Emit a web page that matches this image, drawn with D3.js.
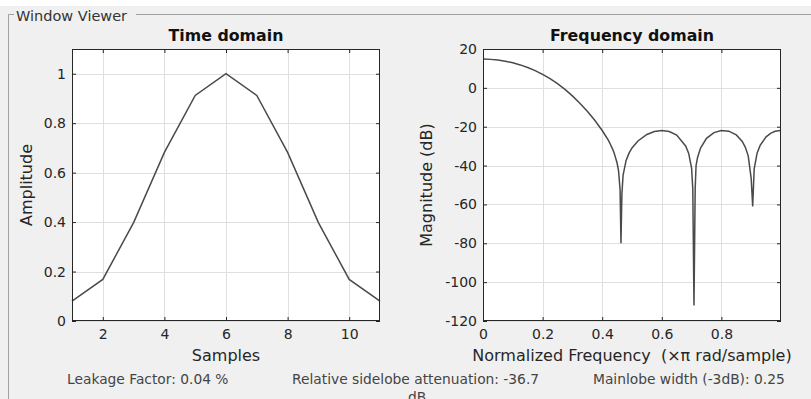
<!DOCTYPE html>
<html><head><meta charset="utf-8">
<script src="https://cdn.jsdelivr.net/npm/d3@7"></script>
<style>
html,body{margin:0;padding:0;background:#fff;}
svg{display:block;font-family:"DejaVu Sans",sans-serif;}
</style></head>
<body>
<svg id="chart" width="811" height="399"></svg>
<script>
// ---- data ----
const samples = [1,2,3,4,5,6,7,8,9,10,11];
const amplitude = [0.08,0.168,0.398,0.682,0.912,1.0,0.912,0.682,0.398,0.168,0.08];
const timeXTicks = [2,4,6,8,10];
const timeYTicks = [0,0.2,0.4,0.6,0.8,1];

const freq = [0,0.025,0.05,0.075,0.1,0.125,0.15,0.175,0.2,0.225,0.25,0.275,0.3,0.325,0.35,0.375,0.4,0.42,0.425,0.435,0.44,0.45,0.455,0.46,0.463,0.466,0.47,0.48,0.49,0.5,0.52,0.55,0.575,0.6,0.625,0.65,0.68,0.69,0.7,0.704,0.708,0.712,0.715,0.72,0.73,0.75,0.775,0.8,0.825,0.85,0.87,0.88,0.89,0.9,0.905,0.91,0.92,0.93,0.95,0.965,0.98,0.998];
const magnitudeDb = [14.84,14.66,14.31,13.72,12.89,11.81,10.46,8.84,6.93,4.70,2.13,-0.80,-4.12,-7.87,-12.05,-16.70,-21.94,-26.82,-28.27,-31.5,-33.47,-38.7,-42.9,-52.4,-80,-55,-45.0,-37.5,-33.6,-30.93,-27.33,-23.99,-22.5,-21.98,-22.45,-24.29,-29.9,-33.6,-41.3,-52,-112,-52,-40.0,-35.8,-31.0,-25.99,-23.05,-21.92,-22.29,-24.24,-27.6,-30.46,-35.0,-46.7,-61,-41.7,-33.5,-29.6,-25.19,-23.4,-22.38,-21.95];
const freqXTicks = [0,0.2,0.4,0.6,0.8];
const freqYTicks = [-120,-100,-80,-60,-40,-20,0,20];

const panelTitle = "Window Viewer";
const footer = ["Leakage Factor: 0.04 %","Relative sidelobe attenuation: -36.7","dB","Mainlobe width (-3dB): 0.25"];

// ---- drawing ----
const svg = d3.select("#chart");
svg.append("rect").attr("x",0).attr("y",6).attr("width",811).attr("height",393).attr("fill","#f0f0f0");
// group box
const boxG = svg.append("g");
boxG.append("path").attr("d","M8.5,399 V14.5 H14 M136,14.5 H811").attr("fill","none").attr("stroke","#a0a0a0").attr("stroke-width",1);
boxG.append("text").attr("x",16).attr("y",20.5).attr("font-size",14.5).attr("fill","#333").text(panelTitle);

function drawAxes(cfg){
  const g = svg.append("g");
  const x = d3.scaleLinear().domain(cfg.xDomain).range([cfg.left,cfg.right]);
  const y = d3.scaleLinear().domain(cfg.yDomain).range([cfg.bottom,cfg.top]);
  g.append("rect").attr("x",cfg.left).attr("y",cfg.top).attr("width",cfg.right-cfg.left).attr("height",cfg.bottom-cfg.top).attr("fill","#fff");
  // grid
  g.append("g").selectAll("line").data(cfg.xTicks).join("line")
    .attr("x1",d=>Math.round(x(d))+0.5).attr("x2",d=>Math.round(x(d))+0.5)
    .attr("y1",cfg.top).attr("y2",cfg.bottom).attr("stroke","#dfdfdf");
  g.append("g").selectAll("line").data(cfg.yTicks).join("line")
    .attr("y1",d=>Math.round(y(d))+0.5).attr("y2",d=>Math.round(y(d))+0.5)
    .attr("x1",cfg.left).attr("x2",cfg.right).attr("stroke","#dfdfdf");
  // data line
  const line = d3.line().x((d,i)=>x(cfg.xs[i])).y(d=>y(d));
  g.append("path").datum(cfg.ys).attr("d",line).attr("fill","none").attr("stroke","#4a4a4a").attr("stroke-width",1.5);
  // axes
  const fmt = d => String(d);
  const ax = g.append("g").attr("transform",`translate(0,${cfg.bottom})`)
    .call(d3.axisBottom(x).tickValues(cfg.xTicks).tickSize(-4).tickPadding(8).tickFormat(fmt));
  const axT = g.append("g").attr("transform",`translate(0,${cfg.top})`)
    .call(d3.axisTop(x).tickValues(cfg.xTicks).tickSize(-4).tickFormat(""));
  const ay = g.append("g").attr("transform",`translate(${cfg.left},0)`)
    .call(d3.axisLeft(y).tickValues(cfg.yTicks).tickSize(-4).tickPadding(6).tickFormat(fmt));
  const ayR = g.append("g").attr("transform",`translate(${cfg.right},0)`)
    .call(d3.axisRight(y).tickValues(cfg.yTicks).tickSize(-4).tickFormat(""));
  [ax,axT,ay,ayR].forEach(a=>{
    a.select(".domain").remove();
    a.selectAll(".tick line").attr("stroke","#262626");
    a.selectAll("text").attr("font-size",14).attr("fill","#262626").attr("font-family","DejaVu Sans");
  });
  ax.selectAll("text").attr("dy","0.71em");
  g.append("rect").attr("x",cfg.left+0.5).attr("y",cfg.top+0.5).attr("width",cfg.right-cfg.left-1).attr("height",cfg.bottom-cfg.top-1)
    .attr("fill","none").attr("stroke","#262626");
  // labels
  const cx=(cfg.left+cfg.right)/2;
  g.append("text").attr("x",cx).attr("y",41).attr("text-anchor","middle").attr("font-size",15.8).attr("font-weight","bold").attr("fill","#111").text(cfg.title);
  g.append("text").attr("x",cx).attr("y",361).attr("text-anchor","middle").attr("font-size",16).attr("fill","#262626")
    .attr("xml:space","preserve").style("white-space","pre").text(cfg.xLabel);
  g.append("text").attr("transform",`translate(${cfg.yLabelX},${(cfg.top+cfg.bottom)/2}) rotate(-90)`).attr("text-anchor","middle").attr("font-size",16).attr("fill","#262626").text(cfg.yLabel);
}

drawAxes({left:72,right:380,top:49,bottom:321,xDomain:[1,11],yDomain:[0,1.1],xTicks:timeXTicks,yTicks:timeYTicks,
  xs:samples,ys:amplitude,title:"Time domain",xLabel:"Samples",yLabel:"Amplitude",yLabelX:32});
drawAxes({left:483,right:781,top:49,bottom:321,xDomain:[0,1],yDomain:[-120,20],xTicks:freqXTicks,yTicks:freqYTicks,
  xs:freq,ys:magnitudeDb,title:"Frequency domain",xLabel:"Normalized Frequency  (\u00d7\u03c0 rad/sample)",yLabel:"Magnitude (dB)",yLabelX:432});

const ft = svg.append("g").attr("font-size",13.8).attr("fill","#444");
ft.append("text").attr("x",67).attr("y",384).text(footer[0]);
ft.append("text").attr("x",292).attr("y",384).text(footer[1]);
ft.append("text").attr("x",408).attr("y",402).text(footer[2]);
ft.append("text").attr("x",593).attr("y",384).text(footer[3]);
</script>
</body></html>
